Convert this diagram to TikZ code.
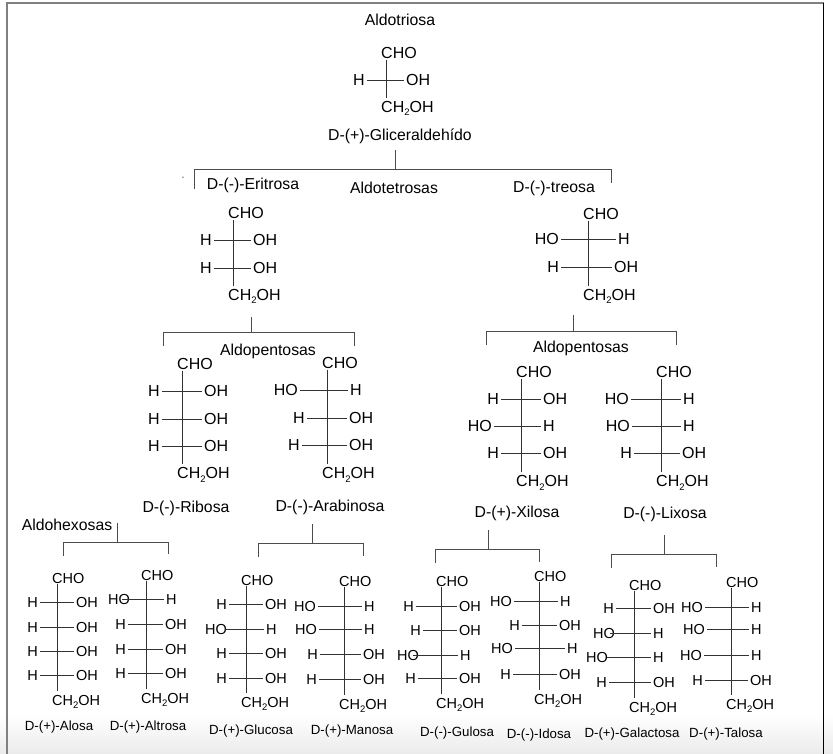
\documentclass[tikz,border=0pt]{standalone}
\usepackage{fontspec}
\setmainfont{Liberation Sans}
\tikzset{
  frameline/.style = { line width=1.5pt, gray },
  bond/.style      = { line width=0.9pt, black!80 },
  tree/.style      = { line width=0.9pt, black!70 },
  chem/.style      = { inner sep=0pt, text height=11pt, text depth=0pt, font=\fontsize{16}{18}\selectfont },
  chemsmall/.style = { chem, text height=10pt, font=\fontsize{14.5}{17}\selectfont },
  sugar/.style     = { inner sep=0pt, font=\fontsize{15.8}{18}\selectfont },
  sugarsmall/.style = { inner sep=0pt, font=\fontsize{13.3}{16}\selectfont }
}
% subscript of the hydroxymethyl group
\newcommand{\chtwo}{CH\raisebox{-3.5pt}{\fontsize{9.5}{10}\selectfont 2}OH}
% #1 id, #2 chem style, #3 left of text, #4 y of CHO, #5 y of CH2OH
\newcommand{\fischer}[5]{
  \node[#2,anchor=west] (#1top) at (#3,#4) {CHO};
  \node[#2,anchor=west] (#1bot) at (#3,#5) {\chtwo};
  \draw[bond,shorten <=1pt,shorten >=3.5pt] ([xshift=5pt]#1top.south west) -- ([xshift=5pt]#1bot.north west);
}
% [#1 bond options] #2 id, #3 chem style, #4 y, #5 right of left text, #6 left of right text, #7 left text, #8 right text
\newcommand{\fisrow}[8][]{
  \node[#3,anchor=east] (#2l) at (#5,#4) {#7};
  \node[#3,anchor=west] (#2r) at (#6,#4) {#8};
  \draw[bond,shorten <=2pt,shorten >=2pt,#1] (#2l.east) -- (#2r.west);
}
% #1 id, #2 x left, #3 x stem, #4 x right, #5 y stem top, #6 y bar, #7 y left end, #8 y right end
\newcommand{\branch}[8]{
  \coordinate (#1t) at (#3,#5);
  \coordinate (#1m) at (#3,#6);
  \coordinate (#1a) at (#2,#7);
  \coordinate (#1b) at (#2,#6);
  \coordinate (#1c) at (#4,#6);
  \coordinate (#1d) at (#4,#8);
  \draw[tree] (#1t) -- (#1m);
  \draw[tree] (#1a) -- (#1b) -- (#1c) -- (#1d);
}
\begin{document}
\begin{tikzpicture}[x=1pt,y=-1pt]
  \useasboundingbox (0,0) rectangle (833,754);
  \shade[top color=white,bottom color=black!8] (0,715) rectangle (833,754);

  % Draw frame
  \coordinate (fa) at (6.75,754);
  \coordinate (fb) at (6.75,3);
  \coordinate (fc) at (823.5,3);
  \coordinate (fd) at (823.5,754);
  \draw[frameline] (fa) -- (fb) -- (fc);
  \draw[line width=1pt,black] (fc) -- (fd);

  % Draw aldotriosa
  \node[sugar] (triosa) at (400,20) {Aldotriosa};
  \fischer{gli}{chem}{381}{53}{107}
  \fisrow{gli1}{chem}{80}{365}{406}{H}{OH}
  \node[sugar] (gliname) at (400,136) {D-(+)-Gliceraldehído};
  \branch{bA}{194}{395}{611}{150}{169}{189}{183}
  \node[inner sep=0pt,font=\fontsize{7}{8}\selectfont] (dot) at (183,178) {-};

  % Draw aldotetrosas
  \node[sugar] (eriname) at (253,185) {D-(-)-Eritrosa};
  \node[sugar] (tetrosas) at (394,188) {Aldotetrosas};
  \node[sugar] (trename) at (554,188) {D-(-)-treosa};

  \fischer{eri}{chem}{228}{213}{295}
  \fisrow{eri1}{chem}{240}{212}{253}{H}{OH}
  \fisrow{eri2}{chem}{268}{212}{253}{H}{OH}
  \branch{bB}{163}{251}{354}{317}{332}{346}{346}

  \fischer{tre}{chem}{583}{214}{295}
  \fisrow{tre1}{chem}{239}{559}{618}{HO}{H}
  \fisrow{tre2}{chem}{267}{559}{614}{H}{OH}
  \branch{bC}{486}{573}{676}{315}{331}{345}{345}

  % Draw aldopentosas
  \node[sugar] (pentosaL) at (268,351) {Aldopentosas};
  \node[sugar] (pentosaR) at (581,348) {Aldopentosas};

  \fischer{rib}{chem}{177}{364}{473}
  \fisrow{rib1}{chem}{391}{160}{204}{H}{OH}
  \fisrow{rib2}{chem}{419}{160}{204}{H}{OH}
  \fisrow{rib3}{chem}{446}{160}{204}{H}{OH}

  \fischer{ara}{chem}{322}{363}{473}
  \fisrow{ara1}{chem}{390}{298}{350}{HO}{H}
  \fisrow{ara2}{chem}{418}{305}{349}{H}{OH}
  \fisrow{ara3}{chem}{445}{300}{349}{H}{OH}

  \fischer{xil}{chem}{516}{372}{481}
  \fisrow{xil1}{chem}{399}{499}{543}{H}{OH}
  \fisrow{xil2}{chem}{426}{492}{543}{HO}{H}
  \fisrow{xil3}{chem}{453}{499}{543}{H}{OH}

  \fischer{lix}{chem}{656}{372}{481}
  \fisrow{lix1}{chem}{399}{629}{683}{HO}{H}
  \fisrow{lix2}{chem}{426}{630}{683}{HO}{H}
  \fisrow{lix3}{chem}{453}{632}{682}{H}{OH}

  \node[sugar] (ribname) at (186,508) {D-(-)-Ribosa};
  \node[sugar] (araname) at (330,507) {D-(-)-Arabinosa};
  \node[sugar] (xilname) at (517,513) {D-(+)-Xilosa};
  \node[sugar] (lixname) at (665,514) {D-(-)-Lixosa};

  % Draw aldohexosas
  \node[sugar] (hexosas) at (67,525) {Aldohexosas};
  \branch{bD}{63}{117}{168}{523}{542}{556}{554}
  \branch{bE}{258}{312}{363}{524}{543}{557}{556}
  \branch{bF}{435}{488}{539}{530}{549}{563}{562}
  \branch{bG}{611}{664}{716}{535}{554}{568}{567}

  \fischer{alo}{chemsmall}{52}{578}{700}
  \fisrow{alo1}{chemsmall}{602}{38}{76}{H}{OH}
  \fisrow{alo2}{chemsmall}{627}{38}{76}{H}{OH}
  \fisrow{alo3}{chemsmall}{651}{38}{76}{H}{OH}
  \fisrow{alo4}{chemsmall}{675}{38}{76}{H}{OH}

  \fischer{alt}{chemsmall}{141}{575}{698}
  \fisrow[shorten <=-8pt]{alt1}{chemsmall}{599}{130}{166}{HO}{H}
  \fisrow{alt2}{chemsmall}{624}{126}{165}{H}{OH}
  \fisrow{alt3}{chemsmall}{649}{126}{165}{H}{OH}
  \fisrow{alt4}{chemsmall}{673}{126}{165}{H}{OH}

  \fischer{glu}{chemsmall}{241}{580}{702}
  \fisrow{glu1}{chemsmall}{604}{227}{265}{H}{OH}
  \fisrow[shorten <=-2pt]{glu2}{chemsmall}{629}{227}{266}{HO}{H}
  \fisrow{glu3}{chemsmall}{653}{227}{265}{H}{OH}
  \fisrow{glu4}{chemsmall}{678}{227}{265}{H}{OH}

  \fischer{man}{chemsmall}{339}{581}{704}
  \fisrow{man1}{chemsmall}{606}{316}{364}{HO}{H}
  \fisrow{man2}{chemsmall}{629}{317}{364}{HO}{H}
  \fisrow{man3}{chemsmall}{654}{318}{363}{H}{OH}
  \fisrow{man4}{chemsmall}{679}{317}{363}{H}{OH}

  \fischer{gul}{chemsmall}{436}{581}{703}
  \fisrow{gul1}{chemsmall}{606}{414}{459}{H}{OH}
  \fisrow{gul2}{chemsmall}{630}{421}{459}{H}{OH}
  \fisrow[shorten <=-6pt]{gul3}{chemsmall}{655}{419}{460}{HO}{H}
  \fisrow{gul4}{chemsmall}{678}{416}{459}{H}{OH}

  \fischer{ido}{chemsmall}{534}{576}{699}
  \fisrow{ido1}{chemsmall}{601}{512}{560}{HO}{H}
  \fisrow{ido2}{chemsmall}{625}{520}{559}{H}{OH}
  \fisrow{ido3}{chemsmall}{648}{513}{567}{HO}{H}
  \fisrow{ido4}{chemsmall}{674}{511}{559}{H}{OH}

  \fischer{gal}{chemsmall}{629}{585}{707}
  \fisrow{gal1}{chemsmall}{608}{614}{653}{H}{OH}
  \fisrow[shorten <=-5pt]{gal2}{chemsmall}{633}{615}{653}{HO}{H}
  \fisrow[shorten <=-1pt]{gal3}{chemsmall}{657}{608}{653}{HO}{H}
  \fisrow{gal4}{chemsmall}{682}{607}{653}{H}{OH}

  \fischer{tal}{chemsmall}{726}{582}{704}
  \fisrow{tal1}{chemsmall}{607}{703}{751}{HO}{H}
  \fisrow{tal2}{chemsmall}{629}{705}{751}{HO}{H}
  \fisrow{tal3}{chemsmall}{655}{702}{751}{HO}{H}
  \fisrow{tal4}{chemsmall}{680}{703}{750}{H}{OH}

  % Draw labels
  \node[sugarsmall] (aloname) at (59,727) {D-(+)-Alosa};
  \node[sugarsmall] (altname) at (148,727) {D-(+)-Altrosa};
  \node[sugarsmall] (gluname) at (251,731) {D-(+)-Glucosa};
  \node[sugarsmall] (manname) at (352,731) {D-(+)-Manosa};
  \node[sugarsmall] (gulname) at (457,733) {D-(-)-Gulosa};
  \node[sugarsmall] (idoname) at (539,735) {D-(-)-Idosa};
  \node[sugarsmall] (galname) at (632,734) {D-(+)-Galactosa};
  \node[sugarsmall] (talname) at (726,734) {D-(+)-Talosa};
\end{tikzpicture}
\end{document}
